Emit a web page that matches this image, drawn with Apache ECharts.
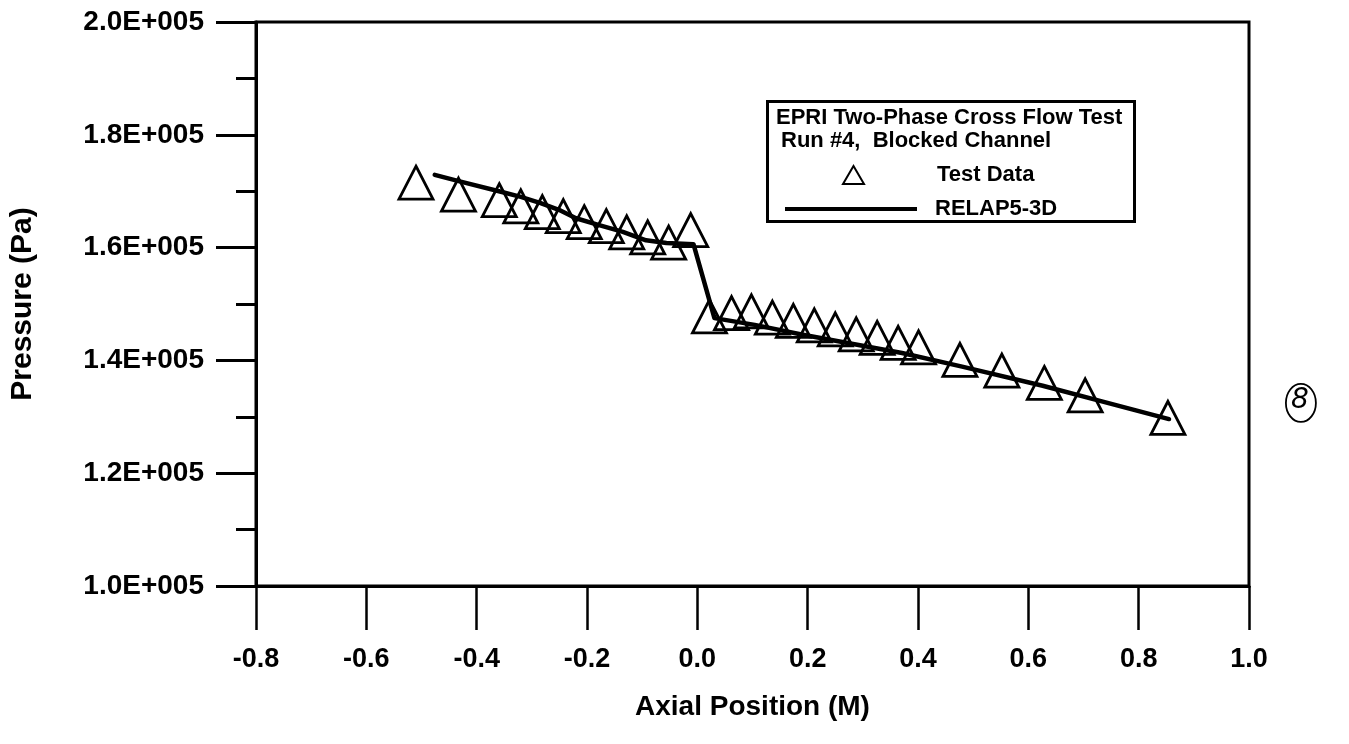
<!DOCTYPE html>
<html>
<head>
<meta charset="utf-8">
<title>EPRI Two-Phase Cross Flow Test</title>
<script src="https://cdn.jsdelivr.net/npm/echarts@6/dist/echarts.min.js"></script>
<style>
  html, body { margin: 0; padding: 0; background: #fff; }
  #chart { width: 1349px; height: 744px; }
</style>
</head>
<body>
<div id="chart"></div>
<script>
// Measured pressure along the blocked channel: [axial position (m), pressure (Pa)]
const testData = [
  [-0.510, 171500], [-0.433, 169400], [-0.359, 168400], [-0.320, 167300],
  [-0.281, 166300], [-0.243, 165600], [-0.205, 164500], [-0.165, 163800],
  [-0.128, 162700], [-0.090, 161800], [-0.052, 160900], [-0.012, 163100],
  [0.022, 147800], [0.062, 148400], [0.098, 148700], [0.136, 147600],
  [0.174, 147000], [0.212, 146200], [0.250, 145500], [0.288, 144600],
  [0.326, 144000], [0.364, 143100], [0.401, 142300], [0.476, 140100],
  [0.552, 138200], [0.629, 136000], [0.703, 133800], [0.853, 129800]
];

// RELAP5-3D calculated pressure profile
const relapCurve = [
  [-0.476, 172900], [-0.429, 171700], [-0.356, 169900], [-0.320, 169000],
  [-0.284, 167900], [-0.251, 166700], [-0.220, 165200], [-0.178, 164000],
  [-0.135, 162800], [-0.093, 161300], [-0.056, 160800], [-0.007, 160600],
  [0.031, 147500], [0.104, 146300], [0.189, 144600], [0.371, 141300],
  [0.480, 138900], [0.626, 135500], [0.735, 132700], [0.855, 129600]
];

const xTicks = { min: -0.8, max: 1.0, step: 0.2 };
const yTicks = { min: 100000, max: 200000, step: 20000 };

const titleLines = ['EPRI Two-Phase Cross Flow Test', 'Run #4,  Blocked Channel'];
const seriesNames = ['Test Data', 'RELAP5-3D'];

const FONT = '"Liberation Sans", Arial, sans-serif';
const chart = echarts.init(document.getElementById('chart'), null, { renderer: 'canvas' });

chart.setOption({
  backgroundColor: '#fff',
  animation: false,
  grid: {
    left: 256, right: 100, top: 22, bottom: 158,
    outerBoundsMode: 'none', containLabel: false,
    show: true, borderColor: '#000', borderWidth: 3, backgroundColor: 'transparent'
  },
  xAxis: {
    type: 'value',
    min: xTicks.min, max: xTicks.max, interval: xTicks.step,
    name: 'Axial Position (M)',
    nameLocation: 'middle', nameGap: 107,
    nameTextStyle: { fontFamily: FONT, fontWeight: 'bold', fontSize: 28, color: '#000' },
    axisLine: { show: true, onZero: false, lineStyle: { color: '#000', width: 3 } },
    axisTick: { show: true, inside: false, length: 44, lineStyle: { color: '#000', width: 2.5 } },
    axisLabel: {
      margin: 60, fontFamily: FONT, fontWeight: 'bold', fontSize: 27, color: '#000',
      formatter: v => v.toFixed(1)
    },
    splitLine: { show: false }
  },
  yAxis: {
    type: 'value',
    min: yTicks.min, max: yTicks.max, interval: yTicks.step,
    name: 'Pressure (Pa)',
    nameLocation: 'middle', nameGap: 218, nameRotate: 90,
    nameTextStyle: { fontFamily: FONT, fontWeight: 'bold', fontSize: 30, color: '#000' },
    axisLine: { show: true, onZero: false, lineStyle: { color: '#000', width: 3 } },
    axisTick: { show: true, inside: false, length: 40, lineStyle: { color: '#000', width: 3 } },
    minorTick: { show: true, splitNumber: 2, length: 20, lineStyle: { color: '#000', width: 3 } },
    axisLabel: {
      margin: 52, fontFamily: FONT, fontWeight: 'bold', fontSize: 28, color: '#000',
      formatter: v => (v / 100000).toFixed(1) + 'E+005'
    },
    splitLine: { show: false }
  },
  legend: [
    {
      left: 837, top: 159, orient: 'vertical',
      itemWidth: 21, itemHeight: 18, itemGap: 0,
      textStyle: { fontFamily: FONT, fontWeight: 'bold', fontSize: 22, color: '#000', padding: [0, 0, 0, 68] },
      data: [{ name: seriesNames[0], icon: 'triangle',
        itemStyle: { color: 'transparent', borderColor: '#000', borderWidth: 2, opacity: 1 } }]
    },
    {
      left: 780, top: 193, orient: 'vertical',
      itemWidth: 132, itemHeight: 18, itemGap: 0,
      textStyle: { fontFamily: FONT, fontWeight: 'bold', fontSize: 22, color: '#000', padding: [0, 0, 0, 13] },
      data: [{ name: seriesNames[1], icon: 'path://M0,7H132V11H0Z',
        itemStyle: { color: '#000' } }]
    }
  ],
  graphic: [
    {
      type: 'rect', left: 766, top: 100, z: 10,
      shape: { width: 367, height: 120 },
      style: { fill: 'transparent', stroke: '#000', lineWidth: 3 }
    },
    {
      type: 'text', left: 776, top: 107, z: 10,
      style: { text: titleLines[0], font: 'bold 22px ' + FONT, fill: '#000' }
    },
    {
      type: 'text', left: 781, top: 130, z: 10,
      style: { text: titleLines[1], font: 'bold 22px ' + FONT, fill: '#000' }
    },
    // circled page number written beside the plot
    {
      type: 'group', left: 1285, top: 383, z: 10,
      children: [
        { type: 'ellipse', shape: { cx: 16, cy: 20, rx: 15, ry: 19 },
          style: { fill: 'transparent', stroke: '#000', lineWidth: 1.8 } },
        { type: 'text', x: 6, y: 4,
          style: { text: '8', font: 'italic 28px "DejaVu Sans", sans-serif', fill: '#000' } }
      ]
    }
  ],
  series: [
    {
      name: seriesNames[0],
      type: 'scatter',
      data: testData,
      symbol: 'triangle',
      symbolSize: [34, 33],
      itemStyle: { color: 'transparent', borderColor: '#000', borderWidth: 2.8, opacity: 1 },
      z: 3
    },
    {
      name: seriesNames[1],
      type: 'line',
      data: relapCurve,
      showSymbol: false,
      symbol: 'none',
      smooth: false,
      lineStyle: { color: '#000', width: 4.5, join: 'round', cap: 'round' },
      z: 4
    }
  ]
});
</script>
</body>
</html>
